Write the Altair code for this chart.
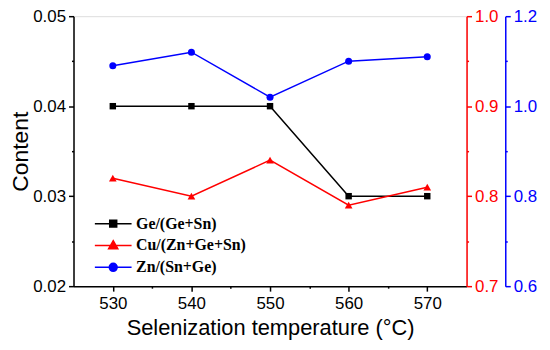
import altair as alt
import pandas as pd

temps = [530, 540, 550, 560, 570]
ge = [0.04, 0.04, 0.04, 0.03, 0.03]
cu = [0.82, 0.80, 0.84, 0.79, 0.81]
zn = [1.09, 1.12, 1.02, 1.10, 1.11]

names = ["Ge/(Ge+Sn)", "Cu/(Zn+Ge+Sn)", "Zn/(Sn+Ge)"]
colors = ["#000000", "#ff0000", "#0000ff"]

x_ticks = [530, 535, 540, 545, 550, 555, 560, 565, 570]
ge_ticks = [0.02, 0.025, 0.03, 0.035, 0.04, 0.045, 0.05]
cu_ticks = [0.7, 0.75, 0.8, 0.85, 0.9, 0.95, 1.0]
zn_ticks = [0.6, 0.7, 0.8, 0.9, 1.0, 1.1, 1.2]

rows = []
for n, vals in zip(names, [ge, cu, zn]):
    for t, v in zip(temps, vals):
        rows.append({"series": n, "temp": t, "value": v})
df = pd.DataFrame(rows)

FONT = "Liberation Sans"


def tick_size(test):
    return {"condition": {"test": test, "value": 2}, "value": 5}


xaxis = alt.Axis(
    values=x_ticks,
    labelExpr="datum.value % 10 == 0 ? datum.label : ''",
    tickSize=tick_size("datum.value % 10 != 0"),
    title="Selenization temperature (°C)",
    titleFontSize=22, titleFont=FONT, titleFontWeight="normal", titlePadding=6,
    labelFontSize=17, labelFont=FONT, labelPadding=5,
    domainColor="black", tickColor="black", labelColor="black",
    domainWidth=1.5, tickWidth=1.5, grid=False, labelFlush=False,
)

ge_axis = alt.Axis(
    orient="left", values=ge_ticks,
    labelExpr="round(datum.value*1000) % 10 == 0 ? format(datum.value, '.2f') : ''",
    tickSize=tick_size("round(datum.value*1000) % 10 != 0"),
    title="Content", titleFontSize=23, titleFont=FONT, titleFontWeight="normal",
    titlePadding=0, labelFontSize=17, labelFont=FONT, labelPadding=3,
    domainColor="black", tickColor="black", labelColor="black", titleColor="black",
    domainWidth=1.5, tickWidth=1.5, grid=False,
)

cu_axis = alt.Axis(
    orient="right", values=cu_ticks,
    labelExpr="round(datum.value*100) % 10 == 0 ? format(datum.value, '.1f') : ''",
    tickSize=tick_size("round(datum.value*100) % 10 != 0"),
    title=None, labelFontSize=17, labelFont=FONT, labelPadding=3,
    domainColor="#ff0000", tickColor="#ff0000", labelColor="#ff0000",
    domainWidth=1.5, tickWidth=1.5, grid=False,
)

zn_axis = alt.Axis(
    orient="right", offset=39, values=zn_ticks,
    labelExpr="round(datum.value*10) % 2 == 0 ? format(datum.value, '.1f') : ''",
    tickSize=tick_size("round(datum.value*10) % 2 != 0"),
    title=None, labelFontSize=17, labelFont=FONT, labelPadding=3,
    domainColor="#0000ff", tickColor="#0000ff", labelColor="#0000ff",
    domainWidth=1.5, tickWidth=1.5, grid=False,
)


def series_layer(name, color, shape, size, domain, axis):
    base = alt.Chart(df).transform_filter(alt.datum.series == name).encode(
        x=alt.X("temp:Q", scale=alt.Scale(domain=[525, 575], nice=False, zero=False), axis=xaxis),
        y=alt.Y("value:Q", scale=alt.Scale(domain=domain, nice=False, zero=False), axis=axis),
    )
    line = base.mark_line(color=color, strokeWidth=1.5)
    pts = base.mark_point(color=color, filled=True, shape=shape, size=size, opacity=1)
    return alt.layer(line, pts)


ge_layer = series_layer(names[0], colors[0], "square", 42, [0.02, 0.05], ge_axis)
cu_layer = series_layer(names[1], colors[1], "triangle-up", 60, [0.7, 1.0], cu_axis)
zn_layer = series_layer(names[2], colors[2], "circle", 50, [0.6, 1.2], zn_axis)

legend_paths = [
    "M-2,0H2M-0.38,-0.38H0.38V0.38H-0.38Z",
    "M-2,0H2M0,-0.52L0.5,0.36H-0.5Z",
    "M-2,0H2M0.43,0A0.43,0.43,0,1,1,-0.43,0A0.43,0.43,0,1,1,0.43,0Z",
]

leg = alt.Legend(
    title=None, orient="none", legendX=30, legendY=199, padding=0,
    symbolSize=342, symbolStrokeWidth=1.5, symbolOpacity=1,
    labelFont="Liberation Serif", labelFontWeight="bold", labelFontSize=16,
    labelColor="black", labelOffset=13, rowPadding=4,
)

legend_layer = alt.Chart(df).transform_filter("false").mark_point(filled=True).encode(
    shape=alt.Shape("series:N", scale=alt.Scale(domain=names, range=legend_paths), legend=leg),
    fill=alt.Fill("series:N", scale=alt.Scale(domain=names, range=colors), legend=leg),
    stroke=alt.Stroke("series:N", scale=alt.Scale(domain=names, range=colors), legend=leg),
)

chart = (
    alt.layer(ge_layer, cu_layer, zn_layer, legend_layer)
    .resolve_scale(y="independent")
    .properties(
        width=396, height=272, autosize="none",
        padding={"left": 66, "top": 7, "right": 76, "bottom": 55},
    )
    .configure_view(stroke="black", strokeWidth=1.5)
    .configure(background="white")
)

chart.save("out.html", embed_options={"renderer": "svg", "actions": False})
